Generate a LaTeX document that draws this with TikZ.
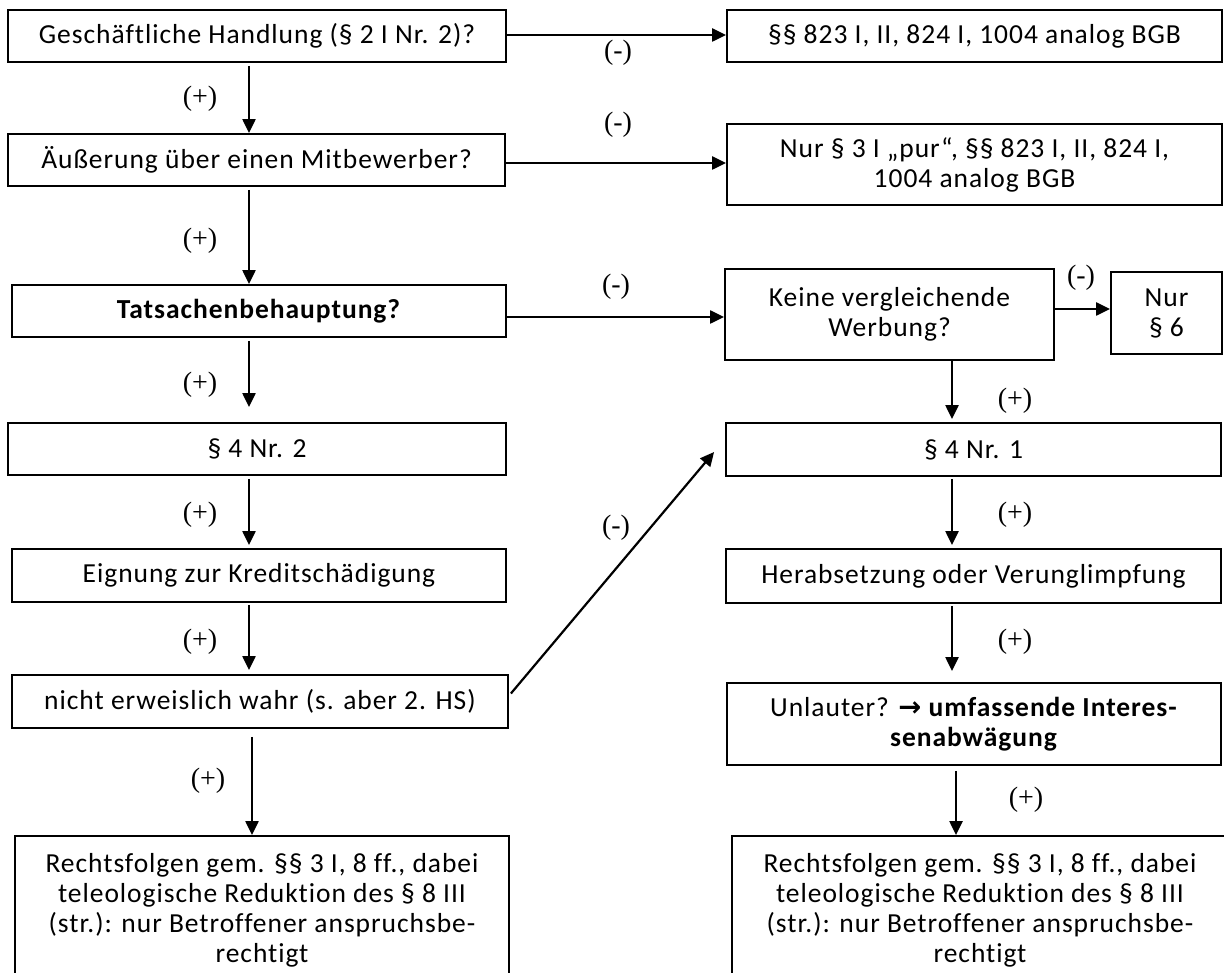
\documentclass[tikz,border=0pt]{standalone}
\usepackage{fontspec}
\setmainfont{Carlito}[LetterSpace=3.5,Ligatures={NoCommon}]
\newfontfamily\labfont{Liberation Serif}
\newfontfamily\symfont{DejaVu Sans}
\usetikzlibrary{arrows.meta}
\begin{document}
\begin{tikzpicture}[x=1pt,y=-1pt,
  box/.style={draw, line width=1.8pt, rectangle, inner sep=0pt, align=center,
    font=\fontsize{27.5}{30}\selectfont},
  arr/.style={line width=2.2pt, -{Triangle[length=14pt,width=13pt]}},
  lab/.style={font=\labfont\fontsize{28}{30}\selectfont, inner sep=0pt}]
\path[use as bounding box, clip] (0,0) rectangle (1224,973);
\fill[white] (0,0) rectangle (1224,973);

% left column
\node[box, minimum width=498pt, minimum height=52pt] (b1) at (257,36) {Geschäftliche Handlung (§ 2 I Nr. 2)?};
\node[box, minimum width=497pt, minimum height=52pt] (b2) at (256.5,160) {Äußerung über einen Mitbewerber?};
\node[box, minimum width=494pt, minimum height=52pt] (b3) at (259,311) {\textbf{Tatsachenbehauptung?}};
\node[box, minimum width=498pt, minimum height=52pt] (b4) at (257,449) {§ 4 Nr. 2};
\node[box, minimum width=494pt, minimum height=53pt] (b5) at (259,575.5) {Eignung zur Kreditschädigung};
\node[box, minimum width=496pt, minimum height=53pt] (b6) at (260,701.5) {nicht erweislich wahr (s. aber 2. HS)};
\node[box, minimum width=494pt, minimum height=149pt] (b7) at (262,910.5) {Rechtsfolgen gem. §§ 3 I, 8 ff., dabei\\teleologische Reduktion des § 8 III\\(str.): nur Betroffener anspruchsbe-\\rechtigt};

% right column
\node[box, minimum width=495pt, minimum height=52pt] (r1) at (974.5,36) {§§ 823 I, II, 824 I, 1004 analog BGB};
\node[box, minimum width=495pt, minimum height=81pt] (r2) at (974.5,164.5) {Nur § 3 I „pur“, §§ 823 I, II, 824 I,\\1004 analog BGB};
\node[box, minimum width=329pt, minimum height=91pt] (r3) at (889.5,314.5) {Keine vergleichende\\Werbung?};
\node[box, minimum width=111pt, minimum height=82pt] (r4) at (1166.5,313) {Nur\\§ 6};
\node[box, minimum width=495pt, minimum height=53pt] (r5) at (973.5,449.5) {§ 4 Nr. 1};
\node[box, minimum width=495pt, minimum height=54pt] (r6) at (973.5,576) {Herabsetzung oder Verunglimpfung};
\node[box, minimum width=494pt, minimum height=82pt] (r7) at (974,724) {Unlauter? {\symfont\bfseries →} \textbf{umfassende Interes-}\\\textbf{senabwägung}};
\node[box, minimum width=496pt, minimum height=149pt] (r8) at (980,910.5) {Rechtsfolgen gem. §§ 3 I, 8 ff., dabei\\teleologische Reduktion des § 8 III\\(str.): nur Betroffener anspruchsbe-\\rechtigt};

% helper coordinates
\coordinate (xl) at (249,0);
\coordinate (xlb) at (252,0);
\coordinate (xr) at (952,0);
\coordinate (xrb) at (956,0);
\coordinate (y1) at (0,35);
\coordinate (y2) at (0,163);
\coordinate (y3) at (0,317);
\coordinate (y4) at (0,309);

% horizontal arrows
\draw[arr] (b1.east |- y1) -- (r1.west |- y1);
\draw[arr] (b2.east |- y2) -- (r2.west |- y2);
\draw[arr] (b3.east |- y3) -- (r3.west |- y3);
\draw[arr] (r3.east |- y4) -- (r4.west |- y4);

% vertical arrows left
\draw[arr, shorten <=3pt] (b1.south -| xl) -- (b2.north -| xl);
\draw[arr, shorten <=3pt] (b2.south -| xl) -- (b3.north -| xl);
\draw[arr, shorten <=3pt, shorten >=15pt] (b3.south -| xl) -- (b4.north -| xl);
\draw[arr, shorten <=3pt, shorten >=3pt] (b4.south -| xl) -- (b5.north -| xl);
\draw[arr, shorten <=2pt, shorten >=4pt] (b5.south -| xl) -- (b6.north -| xl);
\draw[arr, shorten <=8pt] (b6.south -| xlb) -- (b7.north -| xlb);

% vertical arrows right
\draw[arr, shorten >=3pt] (r3.south -| xr) -- (r5.north -| xr);
\draw[arr, shorten <=2pt, shorten >=3pt] (r5.south -| xr) -- (r6.north -| xr);
\draw[arr, shorten <=2pt, shorten >=11pt] (r6.south -| xr) -- (r7.north -| xr);
\draw[arr, shorten <=5pt] (r7.south -| xrb) -- (r8.north -| xrb);

% diagonal
\draw[arr] ([shift={(2,-8)}]b6.east) -- ([shift={(-11,2.5)}]r5.west);

% labels
\node[lab] (p1) at (200,99) {(+)};
\node[lab] (p2) at (200,241) {(+)};
\node[lab] (p3) at (200,385) {(+)};
\node[lab] (p4) at (200,515) {(+)};
\node[lab] (p5) at (200,642) {(+)};
\node[lab] (p6) at (208,781) {(+)};
\node[lab] (p7) at (1015,401) {(+)};
\node[lab] (p8) at (1015,515) {(+)};
\node[lab] (p9) at (1015,642) {(+)};
\node[lab] (p10) at (1026,800) {(+)};
\node[lab] (m1) at (618,53) {(-)};
\node[lab] (m2) at (618,125) {(-)};
\node[lab] (m3) at (616,287) {(-)};
\node[lab] (m4) at (1081,278) {(-)};
\node[lab] (m5) at (616,528) {(-)};
\end{tikzpicture}
\end{document}
